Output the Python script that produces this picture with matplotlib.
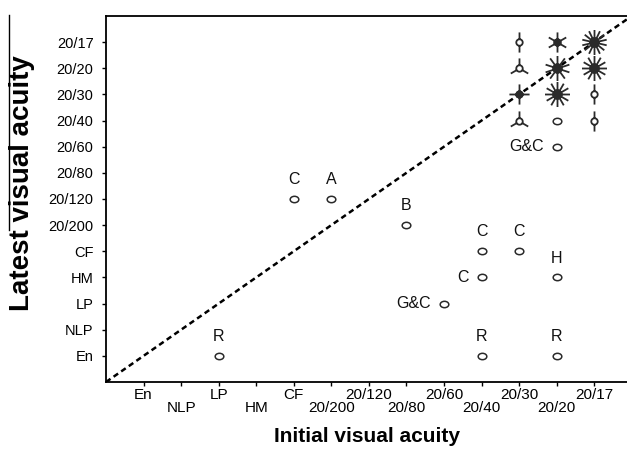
import numpy as np
import matplotlib
matplotlib.use('Agg')
import matplotlib.pyplot as plt
from matplotlib.path import Path
from matplotlib.markers import MarkerStyle
from matplotlib.transforms import Affine2D
from matplotlib.lines import Line2D

plt.rcParams['font.family'] = ['Liberation Sans', 'DejaVu Sans']

# visual acuity scale (worst -> best)
va_levels = ['En', 'NLP', 'LP', 'HM', 'CF', '20/200', '20/120', '20/80',
             '20/60', '20/40', '20/30', '20/20', '20/17']

# single eyes carrying a letter label
lab_init = ['CF', '20/200', '20/80', '20/40', '20/30', '20/40', '20/20',
            '20/60', 'LP', '20/40', '20/20', '20/20']
lab_last = ['20/120', '20/120', '20/200', 'CF', 'CF', 'HM', 'HM',
            'LP', 'En', 'En', 'En', '20/60']
lab_text = ['C', 'A', 'B', 'C', 'C', 'C', 'H', 'G&C', 'R', 'R', 'R', 'G&C']
lab_side = ['top', 'top', 'top', 'top', 'top', 'left', 'top',
            'left', 'top', 'top', 'top', 'left']

# sunflower cells (number of eyes per cell)
sf_init = ['20/30', '20/20', '20/17'] * 4
sf_last = ['20/17'] * 3 + ['20/20'] * 3 + ['20/30'] * 3 + ['20/40'] * 3
sf_count = [2, 6, 14, 3, 10, 12, 4, 12, 2, 3, 1, 2]


def va_idx(v):
    return va_levels.index(v) + 1


def sunflower_path(n, r=0.32):
    parts = [Path.circle((0, 0), r)]
    ang = np.pi / 2 + 2 * np.pi * np.arange(n) / n
    for a in ang:
        parts.append(Path([(r * np.cos(a), r * np.sin(a)), (np.cos(a), np.sin(a))],
                          [Path.MOVETO, Path.LINETO]))
    return Path.make_compound_path(*parts)


mk_col = '#2a2a2a'
ellipse = MarkerStyle('o', fillstyle='none', transform=Affine2D().scale(1.35, 1.0))

fig = plt.figure(figsize=(6.27, 4.5), dpi=100)
ax = fig.add_axes([106 / 627, 68 / 450, 525.7 / 627, 366 / 450])

# line of no change
ax.axline((0, 0), slope=1, color='black', lw=1.8, dashes=(2.2, 1.5))

# labelled single eyes
for xi, yi, t, s in zip(lab_init, lab_last, lab_text, lab_side):
    x, y = va_idx(xi), va_idx(yi)
    ax.plot(x, y, marker=ellipse, ms=4.6, mew=1.1, color=mk_col, ls='none')
    if s == 'top':
        ax.annotate(t, (x, y), xytext=(0, 8.5), textcoords='offset points',
                    ha='center', va='bottom', fontsize=11.5, color='#111111')
    else:
        ax.annotate(t, (x, y), xytext=(-9.5, 0), textcoords='offset points',
                    ha='right', va='center', fontsize=11.5, color='#111111')

# sunflowers
for xi, yi, n in zip(sf_init, sf_last, sf_count):
    x, y = va_idx(xi), va_idx(yi)
    if n == 1:
        ax.plot(x, y, marker=ellipse, ms=4.6, mew=1.1, color=mk_col, ls='none')
        continue
    size = 14.5 if n < 8 else 18
    ax.plot(x, y, marker=MarkerStyle(sunflower_path(n), fillstyle='none'),
            ms=size, mew=1.3, color=mk_col, ls='none')
    if n >= 4:
        ax.plot(x, y, marker='o', ms=6.5 if n >= 8 else 4.5, color=mk_col, ls='none')

ax.set_xlim(0, 14)
ax.set_ylim(0, 14)
ticks = np.arange(1, len(va_levels) + 1)
ax.set_xticks(ticks)
ax.set_xticklabels(va_levels, fontsize=11)
ax.set_yticks(ticks)
ax.set_yticklabels(va_levels, fontsize=10.5)
ax.tick_params(axis='x', direction='out', length=3, width=1, pad=1.5)
ax.tick_params(axis='y', direction='out', length=3, width=1, pad=6)
for i, lab in enumerate(ax.get_xticklabels()):
    if i % 2 == 1:
        lab.set_y(-13 / 366)
for sp in ax.spines.values():
    sp.set_linewidth(1.3)

fig.text(367 / 627, 1 - 437 / 450, 'Initial visual acuity', ha='center', va='center',
         fontsize=15, fontweight='bold')
fig.text(22 / 627, 1 - 183 / 450, 'Latest visual acuity', ha='center', va='center',
         rotation=90, fontsize=20, fontweight='bold')
fig.add_artist(Line2D([9 / 627, 9 / 627], [1 - 15 / 450, 1 - 230 / 450],
                      transform=fig.transFigure, color='black', lw=1))

fig.savefig('out.png', dpi=100)
